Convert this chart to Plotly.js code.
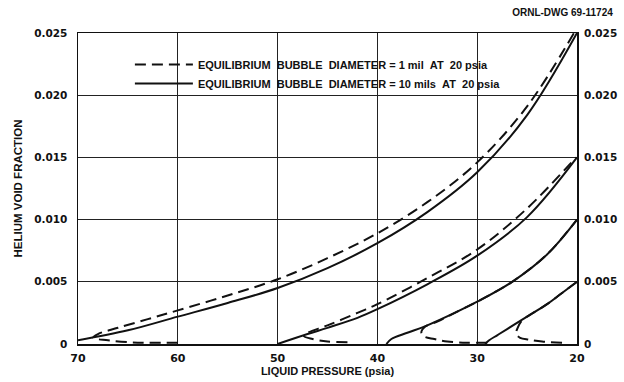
<!DOCTYPE html>
<html>
<head>
<meta charset="utf-8">
<script src="https://cdn.plot.ly/plotly-3.0.1.min.js"></script>
<style>
html,body{margin:0;padding:0;background:#fff;}
#chart{width:624px;height:382px;}
</style>
</head>
<body>
<div id="chart"></div>
<script>
// ---- data ----
var xTicks = [70, 60, 50, 40, 30, 20];
var yTicks = [0, 0.005, 0.010, 0.015, 0.020, 0.025];
var yTickText = ['0', '0.005', '0.010', '0.015', '0.020', '0.025'];

// Family A (bubbles start at 70 psia)
var solidA_x = [70, 65, 60, 55, 50, 45, 40, 35, 30, 25, 20];
var solidA_y = [0.0003, 0.0011, 0.0022, 0.0033, 0.0045, 0.0061, 0.0081, 0.0106, 0.0138, 0.0184, 0.0250];
var dashedA_x = [60, 63, 65, 67, 68.5, 68, 66, 63, 60, 55, 50, 45, 40, 35, 30, 25, 20.3];
var dashedA_y = [0.0001, 0.0001, 0.00015, 0.0003, 0.0005, 0.0008, 0.0013, 0.0020, 0.0027, 0.0039, 0.0052, 0.0069, 0.0089, 0.0114, 0.0146, 0.0191, 0.0250];

// Family B (starts at 50 psia)
var solidB_x = [50, 47, 45, 42, 40, 35, 30, 25, 20];
var solidB_y = [0, 0.0008, 0.0013, 0.0021, 0.0028, 0.0048, 0.0071, 0.0102, 0.0150];
var dashedB_x = [43, 45, 46.5, 47.4, 47, 45, 42, 40, 35, 30, 25, 20.1];
var dashedB_y = [0.00015, 0.0002, 0.0004, 0.00065, 0.0009, 0.0015, 0.0025, 0.0032, 0.0053, 0.0076, 0.0109, 0.0150];

// Family C (starts at 39 psia)
var solidC_x = [39.1, 38.6, 37, 35, 32, 30, 26.5, 23, 20];
var solidC_y = [0.0, 0.0004, 0.0009, 0.0015, 0.0026, 0.0034, 0.0050, 0.0072, 0.0100];
var dashedC_x = [29, 31, 33, 34.3, 35.3, 35.6, 35.2, 34, 32, 30, 26.5, 23, 20];
var dashedC_y = [0.0001, 0.0001, 0.0002, 0.0004, 0.0006, 0.0009, 0.0014, 0.0018, 0.0026, 0.0034, 0.0050, 0.0072, 0.0100];

// Family D (starts at 29 psia)
var solidD_x = [29.2, 28.8, 28, 27, 25, 23, 21.5, 20];
var solidD_y = [0.0, 0.0003, 0.0007, 0.0012, 0.0022, 0.0032, 0.0041, 0.0050];
var dashedD_x = [21.5, 23.5, 24.8, 25.7, 26.1, 26.0, 25.5, 24.5, 23, 21.5, 20];
var dashedD_y = [0.0001, 0.0002, 0.00035, 0.0005, 0.0008, 0.0012, 0.0019, 0.00245, 0.0032, 0.0041, 0.0050];

var legendDashed = 'EQUILIBRIUM\u00a0\u00a0BUBBLE\u00a0\u00a0DIAMETER = 1 mil\u00a0\u00a0AT\u00a0\u00a020 psia';
var legendSolid = 'EQUILIBRIUM\u00a0\u00a0BUBBLE\u00a0\u00a0DIAMETER = 10 mils\u00a0\u00a0AT\u00a0\u00a020 psia';

// ---- traces ----
function tr(x, y, dashed, name, show, yaxis) {
  return {
    x: x, y: y, type: 'scatter', mode: 'lines',
    name: name, showlegend: show, yaxis: yaxis || 'y',
    line: {color: '#111', width: 2, dash: dashed ? '11px,6px' : 'solid', shape: 'spline', smoothing: 1.0},
    hoverinfo: 'skip'
  };
}
var data = [
  tr(dashedA_x, dashedA_y, true, legendDashed, true),
  tr(solidA_x, solidA_y, false, legendSolid, true),
  tr(dashedB_x, dashedB_y, true, '', false),
  tr(solidB_x, solidB_y, false, '', false),
  tr(dashedC_x, dashedC_y, true, '', false),
  tr(solidC_x, solidC_y, false, '', false),
  tr(dashedD_x, dashedD_y, true, '', false),
  tr(solidD_x, solidD_y, false, '', false, 'y2')
];

var LIB = 'Liberation Sans, Arial, sans-serif';
var DJV = 'DejaVu Sans, Verdana, sans-serif';
var layout = {
  width: 624, height: 382,
  margin: {l: 78, r: 47, t: 33, b: 38},
  paper_bgcolor: '#fff', plot_bgcolor: '#fff',
  font: {family: LIB, color: '#111', size: 11, weight: 'bold'},
  title: {text: 'ORNL-DWG 69-11724', x: 0.982, xanchor: 'right', y: 0.966, yanchor: 'middle',
          font: {family: LIB, size: 10, color: '#111', weight: 'bold'}},
  showlegend: true,
  legend: {x: 0.104, y: 0.945, xanchor: 'left', yanchor: 'top', bgcolor: 'rgba(255,255,255,0)',
           borderwidth: 0, font: {family: LIB, size: 11, color: '#111', weight: 'bold'}, itemwidth: 58,
           tracegroupgap: 0},
  xaxis: {
    range: [70, 20], tickvals: xTicks, ticktext: xTicks.map(String),
    showgrid: true, gridcolor: '#222', gridwidth: 1, zeroline: false,
    showline: true, linecolor: '#111', linewidth: 1.5, mirror: true,
    ticks: '', ticklabelstandoff: 3,
    tickfont: {family: DJV, size: 11, color: '#111', weight: 'bold'},
    title: {text: 'LIQUID PRESSURE (psia)', standoff: 3, font: {family: LIB, size: 11, color: '#111', weight: 'bold'}}
  },
  yaxis: {
    range: [0, 0.025], tickvals: yTicks, ticktext: yTickText,
    showgrid: true, gridcolor: '#222', gridwidth: 1, zeroline: false,
    showline: true, linecolor: '#111', linewidth: 1.5, mirror: true,
    ticks: '', ticklabelstandoff: 7,
    tickfont: {family: DJV, size: 10.5, color: '#111', weight: 'bold'},
    title: {text: 'HELIUM VOID FRACTION', standoff: 9, font: {family: LIB, size: 11.5, color: '#111', weight: 'bold'}}
  },
  yaxis2: {
    range: [0, 0.025], tickvals: yTicks, ticktext: yTickText,
    overlaying: 'y', side: 'right', anchor: 'x',
    showgrid: false, zeroline: false, showline: false, ticks: '', ticklabelstandoff: 6,
    tickfont: {family: DJV, size: 10.5, color: '#111', weight: 'bold'}
  }
};

Plotly.newPlot('chart', data, layout, {staticPlot: true});
</script>
</body>
</html>
